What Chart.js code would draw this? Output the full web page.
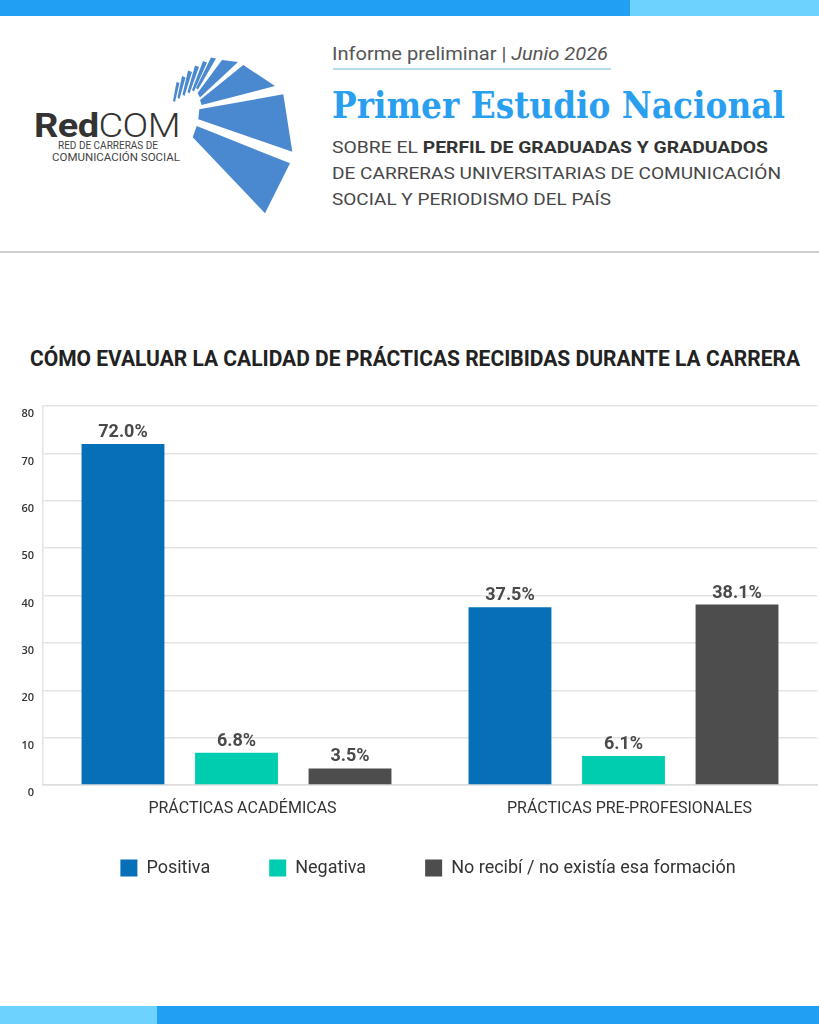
<!DOCTYPE html>
<html><head><meta charset="utf-8">
<script src="https://cdn.jsdelivr.net/npm/chart.js@4.4.1/dist/chart.umd.min.js"></script>
<style>
html,body{margin:0;padding:0;background:#fff;}
body{width:819px;height:1024px;position:relative;overflow:hidden;font-family:Roboto,sans-serif;}
.abs{position:absolute;white-space:nowrap;line-height:1;transform-origin:0 0;}
#chartBox{position:absolute;left:0;top:390px;width:819px;height:516px;}
</style></head><body>
<div class="abs" style="left:0;top:0;width:630px;height:16px;background:#21a0f3"></div>
<div class="abs" style="left:630px;top:0;width:189px;height:16px;background:#6dd3fe"></div>
<div class="abs" style="left:0;top:1006px;width:157px;height:18px;background:#6dd3fe"></div>
<div class="abs" style="left:157px;top:1006px;width:662px;height:18px;background:#21a0f3"></div>
<div class="abs" style="left:0;top:251px;width:819px;height:2px;background:#cfcfcf"></div>

<svg class="abs" style="left:0;top:0" width="819" height="260" viewBox="0 0 819 260">
  <g fill="#4a89cf">
    <polygon points="196.7,126 290,163.3 265,213.3 192.7,137.3"/>
    <polygon points="199.3,109.3 283.3,94.3 292.3,151.7 198.3,119.3"/>
    <polygon points="200,100 243.3,65 275,86 201.7,105"/>
    <polygon points="197.5,93 222,60 238,62 200,97.5"/>
    <polygon points="173,101 176.5,82 179.5,83 175,102"/>
    <polygon points="177.5,97.5 182,76 185.5,77.5 179.5,99"/>
    <polygon points="182.5,94.5 188,70.5 192,72 184.5,96"/>
    <polygon points="187.5,92 195,65.5 199,67 189.5,93.5"/>
    <polygon points="192,90 203,61 207,62.5 194,91.5"/>
    <polygon points="196,88 211,57.5 216,58.5 198,89.5"/>
  </g>
</svg>
<div class="abs" id="logoMain" style="left:34px;top:109px;font-size:33px;color:#333;letter-spacing:-0.5px"><b>Red</b><span style="font-weight:300">COM</span></div>
<div class="abs" id="logoS1" style="left:58px;top:140.8px;font-size:10px;color:#444">RED DE CARRERAS DE</div>
<div class="abs" id="logoS2" style="left:52px;top:152.7px;font-size:10px;color:#444">COMUNICACIÓN SOCIAL</div>

<div class="abs" id="h1" style="left:332px;top:45.5px;font-size:17.5px;color:#555">Informe preliminar | <i>Junio 2026</i></div>
<div class="abs" style="left:333px;top:68px;width:278px;height:2px;background:#b5dcee"></div>
<div class="abs" id="h2" style="left:332px;top:87.5px;font-size:36.5px;color:#2a9ff0;font-family:'DejaVu Serif',serif;font-weight:bold">Primer Estudio Nacional</div>
<div class="abs" id="h3" style="left:332px;top:140px;font-size:16.5px;color:#474747">SOBRE EL <b style="color:#333">PERFIL DE GRADUADAS Y GRADUADOS</b></div>
<div class="abs" id="h4" style="left:332px;top:166px;font-size:16.5px;color:#474747">DE CARRERAS UNIVERSITARIAS DE COMUNICACIÓN</div>
<div class="abs" id="h5" style="left:332px;top:192px;font-size:16.5px;color:#474747">SOCIAL Y PERIODISMO DEL PAÍS</div>

<div class="abs" id="ctitle" style="left:30px;top:347.8px;font-size:21.5px;font-weight:bold;color:#222">CÓMO EVALUAR LA CALIDAD DE PRÁCTICAS RECIBIDAS DURANTE LA CARRERA</div>

<div id="chartBox"><canvas id="c"></canvas></div>

<script>
// ---- data ----
const categories = ['PRÁCTICAS ACADÉMICAS', 'PRÁCTICAS PRE-PROFESIONALES'];
const seriesNames = ['Positiva', 'Negativa', 'No recibí / no existía esa formación'];
const positiva = [72.0, 37.5];
const negativa = [6.8, 6.1];
const noRecibi = [3.5, 38.1];
const yTicks = [0, 10, 20, 30, 40, 50, 60, 70, 80];
const seriesColors = ['#0570b8', '#00cdb0', '#4d4d4d'];

// ---- fit header text widths ----
function fit(id, w) {
  const el = document.getElementById(id);
  const r = el.getBoundingClientRect().width;
  el.style.transform = 'scaleX(' + (w / r) + ')';
}
fit('logoMain', 146); fit('logoS1', 100); fit('logoS2', 128);
fit('h1', 276); fit('h2', 453); fit('h3', 436); fit('h4', 449); fit('h5', 279);
fit('ctitle', 770);

const valueLabels = {
  id: 'valueLabels',
  afterDatasetsDraw(chart) {
    const ctx = chart.ctx;
    ctx.save();
    ctx.font = 'bold 18px Roboto';
    ctx.fillStyle = '#4a4a4a';
    ctx.textAlign = 'center';
    ctx.textBaseline = 'alphabetic';
    chart.data.datasets.forEach((ds, i) => {
      chart.getDatasetMeta(i).data.forEach((bar, j) => {
        ctx.fillText(ds.data[j].toFixed(1) + '%', bar.x, bar.y - 7);
      });
    });
    ctx.restore();
  }
};

// shift the legend block (layout only)
const legendShift = {
  id: 'legendShift',
  afterLayout(chart) {
    const l = chart.legend;
    if (!l) return;
    l.left += 19.5; l.right += 19.5;
    l.top -= 19; l.bottom -= 19;
  }
};

const seriesData = [positiva, negativa, noRecibi];
new Chart(document.getElementById('c'), {
  type: 'bar',
  data: {
    labels: categories,
    datasets: seriesNames.map((n, i) => ({
      label: n,
      data: seriesData[i],
      backgroundColor: seriesColors[i],
      borderWidth: 0,
      categoryPercentage: 0.88,
      barPercentage: 0.73
    }))
  },
  options: {
    responsive: true,
    maintainAspectRatio: false,
    animation: false,
    layout: { padding: { left: 0, right: 2, top: 16, bottom: 0 } },
    plugins: {
      title: { display: false },
      tooltip: { enabled: false },
      legend: {
        position: 'bottom',
        labels: {
          boxWidth: 17, boxHeight: 17, padding: 59,
          color: '#333',
          font: { family: 'Roboto', size: 18 }
        }
      }
    },
    scales: {
      x: {
        grid: { display: false, drawTicks: false },
        border: { display: true, color: '#dcdcdc', width: 1.5 },
        ticks: { color: '#333', font: { family: 'Roboto', size: 16 }, padding: 14, labelOffset: 6, maxRotation: 0 },
        afterFit(s) { s.height = 34; }
      },
      y: {
        min: 0, max: 80,
        afterBuildTicks(s) { s.ticks = yTicks.map(v => ({ value: v })); },
        grid: { color: '#e3e3e3', lineWidth: 1.5, drawTicks: false },
        border: { display: true, color: '#e3e3e3', width: 1.5 },
        ticks: { color: '#333', font: { family: 'Open Sans', size: 11, weight: '600' }, padding: 9, labelOffset: 8 },
        afterFit(s) { s.width = 43; }
      }
    }
  },
  plugins: [valueLabels, legendShift]
});
</script>
</body></html>
